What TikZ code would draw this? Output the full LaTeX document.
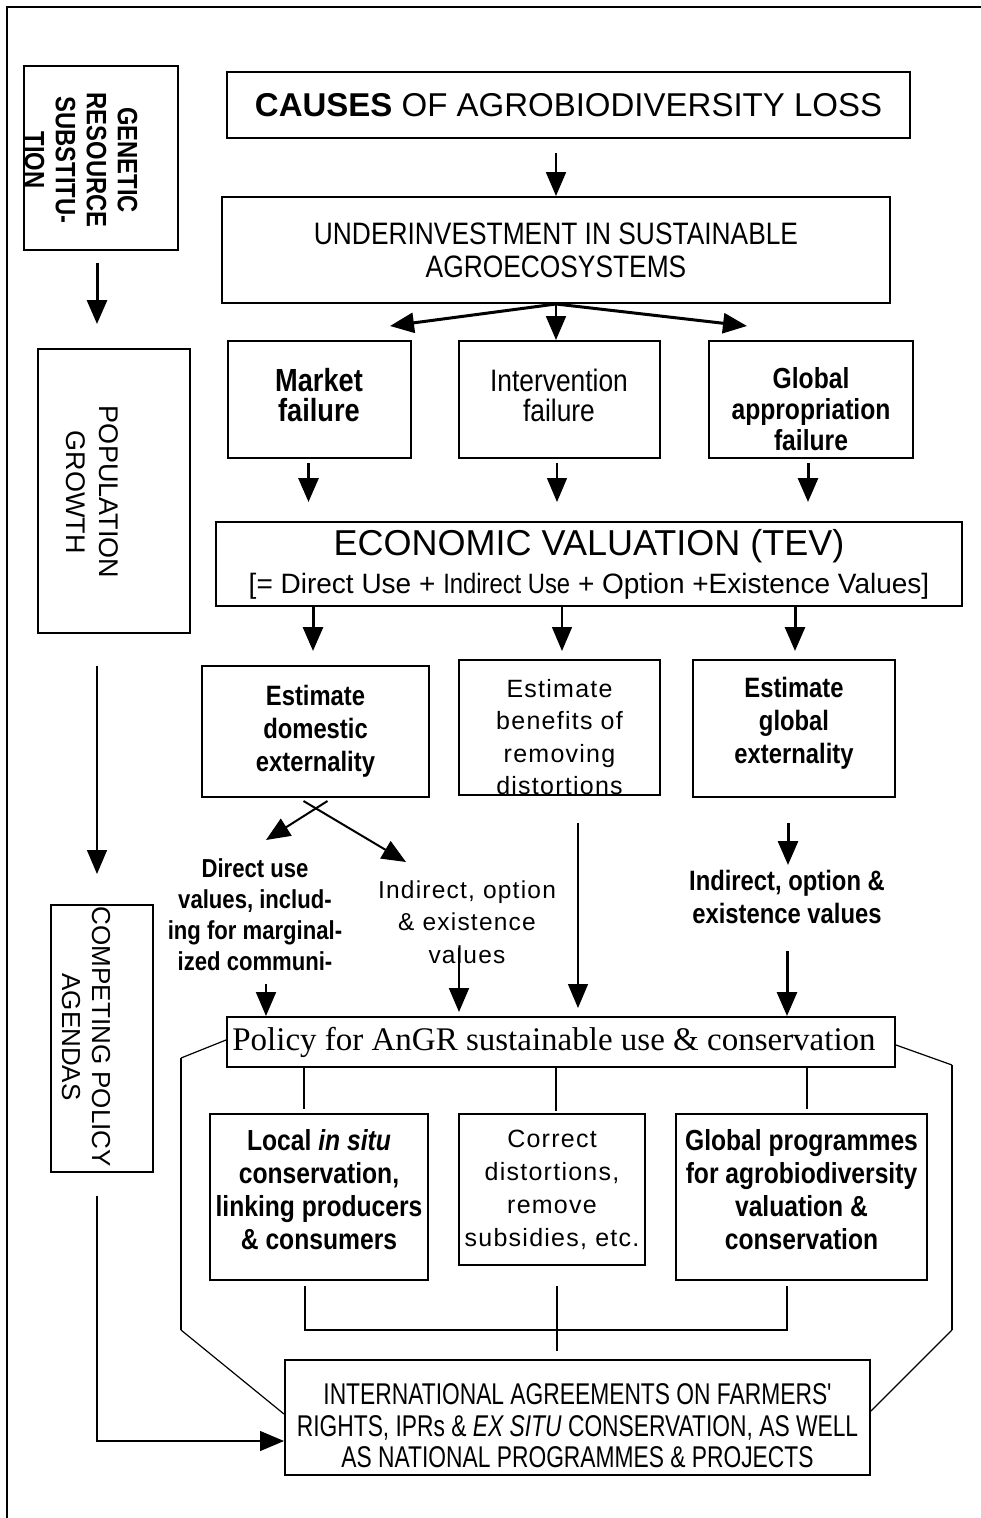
\documentclass[tikz,border=0pt]{standalone}
\usepackage{fontspec}
\setmainfont{Liberation Sans}
\newfontfamily\nar[FakeStretch=0.85]{Liberation Sans}
\newfontfamily\vnar[FakeStretch=0.76]{Liberation Sans}
\newfontfamily\spc[LetterSpace=5]{Liberation Sans}
\newfontfamily\tms{Liberation Serif}
\usetikzlibrary{arrows.meta,calc}
\newcommand\fsz[2]{\fontsize{#1}{#2}\selectfont}
\begin{document}
\begin{tikzpicture}[x=1pt,y=-1pt,
 box/.style={draw, line width=2pt, inner sep=0pt, align=center},
 txt/.style={inner sep=0pt, align=center},
 arrT/.style={line width=3pt, -{Triangle[width=20pt,length=24pt]}},
 arrM/.style={line width=2pt, -{Triangle[width=20pt,length=24pt]}},
 arrt/.style={line width=1.3pt, -{Triangle[width=20pt,length=24pt]}},
 ln/.style={line width=2.5pt},
 lnt/.style={line width=1.2pt},
 frame/.style={line width=1.5pt}
]
\useasboundingbox (0,0) rectangle (981,1518);
\fill[white] (0,0) rectangle (981,1518);
% outer frame
\coordinate (fTL) at (7,7);
\coordinate (fTR) at (981,7);
\coordinate (fBL) at (7,1518);
\draw[frame] (fTR) -- (fTL) -- (fBL);

% left column
\node[box, minimum width=154pt, minimum height=184pt] (gen) at (101,158) {};
\begin{scope}
\clip (gen.south west) rectangle (gen.north east);
\node[txt, rotate=-90, font=\nar\bfseries\fsz{28}{31}] (genT) at (81,160) {GENETIC\\RESOURCE\\SUBSTITU-\\TION};
\end{scope}
\node[box, minimum width=152pt, minimum height=284pt] (pop) at (114,491) {};
\node[txt, rotate=-90, font=\fsz{27}{33}] (popT) at (92,492) {POPULATION\\GROWTH};
\node[box, minimum width=102pt, minimum height=267pt] (comp) at (102,1038.5) {};
\node[txt, rotate=-90, font=\fsz{26}{30}] (compT) at (86,1037) {COMPETING POLICY\\AGENDAS};

% main column
\node[box, minimum width=683pt, minimum height=66pt, font=\fsz{33}{40}] (causes) at (568.5,105)
  {\textbf{CAUSES} OF AGROBIODIVERSITY LOSS};
\node[box, minimum width=668pt, minimum height=106pt, font=\nar\fsz{31}{33}] (under) at (556,250)
  {UNDERINVESTMENT IN SUSTAINABLE\\AGROECOSYSTEMS};
\node[box, minimum width=183pt, minimum height=117pt] (market) at (319.5,399.5) {};
\node[txt, font=\nar\bfseries\fsz{32}{30}] (marketT) at (319,395) {Market\\failure};
\node[box, minimum width=201pt, minimum height=117pt] (interv) at (559.5,399.5) {};
\node[txt, font=\nar\fsz{31}{30}] (intervT) at (559,395) {Intervention\\failure};
\node[box, minimum width=204pt, minimum height=117pt] (global) at (811,399.5) {};
\node[txt, font=\nar\bfseries\fsz{29}{31}] (globalT) at (811,409) {Global\\appropriation\\failure};
\node[box, minimum width=746pt, minimum height=84pt, font=\fsz{36}{38}] (econ) at (589,564)
  {ECONOMIC VALUATION (TEV)\\\fsz{28}{38}{[}= Direct Use + {\nar Indirect Use} + Option +Existence Values{]}};
\node[box, minimum width=227pt, minimum height=131pt, font=\nar\bfseries\fsz{28}{33}] (estdom) at (315.5,731.5)
  {Estimate\\domestic\\externality};
\node[box, minimum width=201pt, minimum height=135pt] (estben) at (559.5,727.5) {};
\begin{scope}
\clip (estben.south west) rectangle (estben.north east);
\node[txt, font=\spc\fsz{25}{32.5}] (estbenT) at (559.5,737) {Estimate\\benefits of\\removing\\distortions};
\end{scope}
\node[box, minimum width=202pt, minimum height=137pt] (estglob) at (794,728.5) {};
\node[txt, font=\nar\bfseries\fsz{28}{33}] (estglobT) at (794,723) {Estimate\\global\\externality};

\node[txt, font=\nar\bfseries\fsz{26}{31}] (dtxt) at (255,915)
  {Direct use\\values, includ-\\ing for marginal-\\ized communi-};
\node[txt, font=\spc\fsz{24.5}{32.5}] (itxt) at (467,922)
  {Indirect, option\\\& existence\\values};
\node[txt, font=\nar\bfseries\fsz{28}{33}] (rtxt) at (787,897)
  {Indirect, option \&\\existence values};

\node[box, minimum width=668pt, minimum height=50pt, font=\tms\fsz{33}{36}] (policy) at (561,1042)
  {Policy for AnGR sustainable use \& conservation\kern14pt};
\node[box, minimum width=218pt, minimum height=166pt] (local) at (319,1197) {};
\node[txt, font=\nar\bfseries\fsz{29}{33}] (localT) at (319,1190) {Local \textit{in situ}\\conservation,\\linking producers\\\& consumers};
\node[box, minimum width=186pt, minimum height=151pt, font=\spc\fsz{25}{33}] (correct) at (552,1189.5)
  {Correct\\distortions,\\remove\\subsidies, etc.};
\node[box, minimum width=251pt, minimum height=166pt] (globprog) at (801.5,1197) {};
\node[txt, font=\nar\bfseries\fsz{29}{33}] (globprogT) at (801.5,1190) {Global programmes\\for agrobiodiversity\\valuation \&\\conservation};
\node[box, minimum width=585pt, minimum height=115pt] (intl) at (577.5,1417.5) {};
\node[txt, font=\vnar\fsz{30}{31.5}] (intlT) at (577.5,1426)
  {INTERNATIONAL AGREEMENTS ON FARMERS'\\RIGHTS, IPRs \& \textit{EX SITU} CONSERVATION, AS WELL\\AS NATIONAL PROGRAMMES \& PROJECTS};

% left column arrows
\draw[arrT] ($(gen.south)+(-4,12)$) -- ($(gen.south |- pop.north)+(-4,-24)$);
\draw[arrt] ($(pop.south)+(-17,32)$) -- ($(pop.south |- comp.north)+(-17,-30)$);
\draw[arrt] ($(comp.south)+(-5,23)$) |- ($(intl.south west)+(0,-35)$);

% main arrows
\draw[arrM] ($(causes.south -| under.north)+(0,14)$) -- (under.north);
\coordinate (mL) at (390,326);
\coordinate (mR) at (747,326);
\draw[arrT] (under.south) -- (mL);
\draw[arrT] (under.south) -- (mR);
\draw[arrM] (under.south) -- (under.south |- interv.north);

\draw[arrT] ($(market.south)+(-11,4)$) -- ($(market.south |- econ.north)+(-11,-19)$);
\draw[arrt] ($(interv.south)+(-2.5,4)$) -- ($(interv.south |- econ.north)+(-2.5,-19)$);
\draw[arrT] ($(global.south)+(-3,4)$) -- ($(global.south |- econ.north)+(-3,-19)$);

\draw[arrT] ($(econ.south -| estdom.north)+(-2.5,0)$) -- ($(estdom.north)+(-2.5,-14)$);
\draw[arrt] ($(econ.south -| estben.north)+(2.5,0)$) -- ($(estben.north)+(2.5,-8)$);
\draw[arrT] ($(econ.south -| estglob.north)+(1,0)$) -- ($(estglob.north)+(1,-8)$);

\coordinate (dA) at (406,862);
\coordinate (dB) at (266,840);
\draw[arrM] ($(estdom.south)+(-12,3)$) -- (dA);
\draw[arrM] ($(estdom.south)+(12,3)$) -- (dB);

\draw[arrM] ($(policy.north west)+(40,-32)$) -- ($(policy.north west)+(40,0)$);
\draw[arrM] ($(policy.north west)+(233,-68)$) -- ($(policy.north west)+(233,-4)$);
\draw[arrt] ($(estben.south)+(18.5,27)$) -- ($(estben.south |- policy.north)+(18.5,-8)$);
\draw[arrT] ($(estglob.south)+(-6,25)$) -- ($(estglob.south)+(-6,67)$);
\draw[arrT] ($(policy.north west)+(561,-65)$) -- ($(policy.north west)+(561,0)$);

% policy to action boxes
\draw[ln] ($(policy.south west)+(78,0)$) -- ($(policy.south west)+(78,41)$);
\draw[lnt] ($(policy.south west)+(330,0)$) -- ($(policy.south west)+(330,43)$);
\draw[ln] ($(policy.south west)+(581,0)$) -- ($(policy.south west)+(581,41)$);

% action boxes to bottom
\coordinate (jL) at (305,1330);
\coordinate (jR) at (787,1330);
\draw[ln] ($(local.south)+(-14,5)$) -- (jL) -- (jR) -- ($(globprog.south)+(-14.5,5)$);
\draw[lnt] ($(correct.south)+(5,20)$) -- ($(correct.south)+(5,85)$);

% side brackets
\coordinate (bL1) at (181,1058);
\coordinate (bL2) at (181,1330);
\coordinate (bR1) at (952,1065);
\coordinate (bR2) at (952,1330);
\draw[lnt] ($(policy.west)+(0,-2)$) -- (bL1);
\draw[ln] (bL1) -- (bL2);
\draw[lnt] (bL2) -- ($(intl.north west)+(0,55)$);
\draw[lnt] ($(policy.east)+(0,3)$) -- (bR1);
\draw[ln] (bR1) -- (bR2);
\draw[lnt] (bR2) -- ($(intl.north east)+(0,52)$);
\end{tikzpicture}
\end{document}
